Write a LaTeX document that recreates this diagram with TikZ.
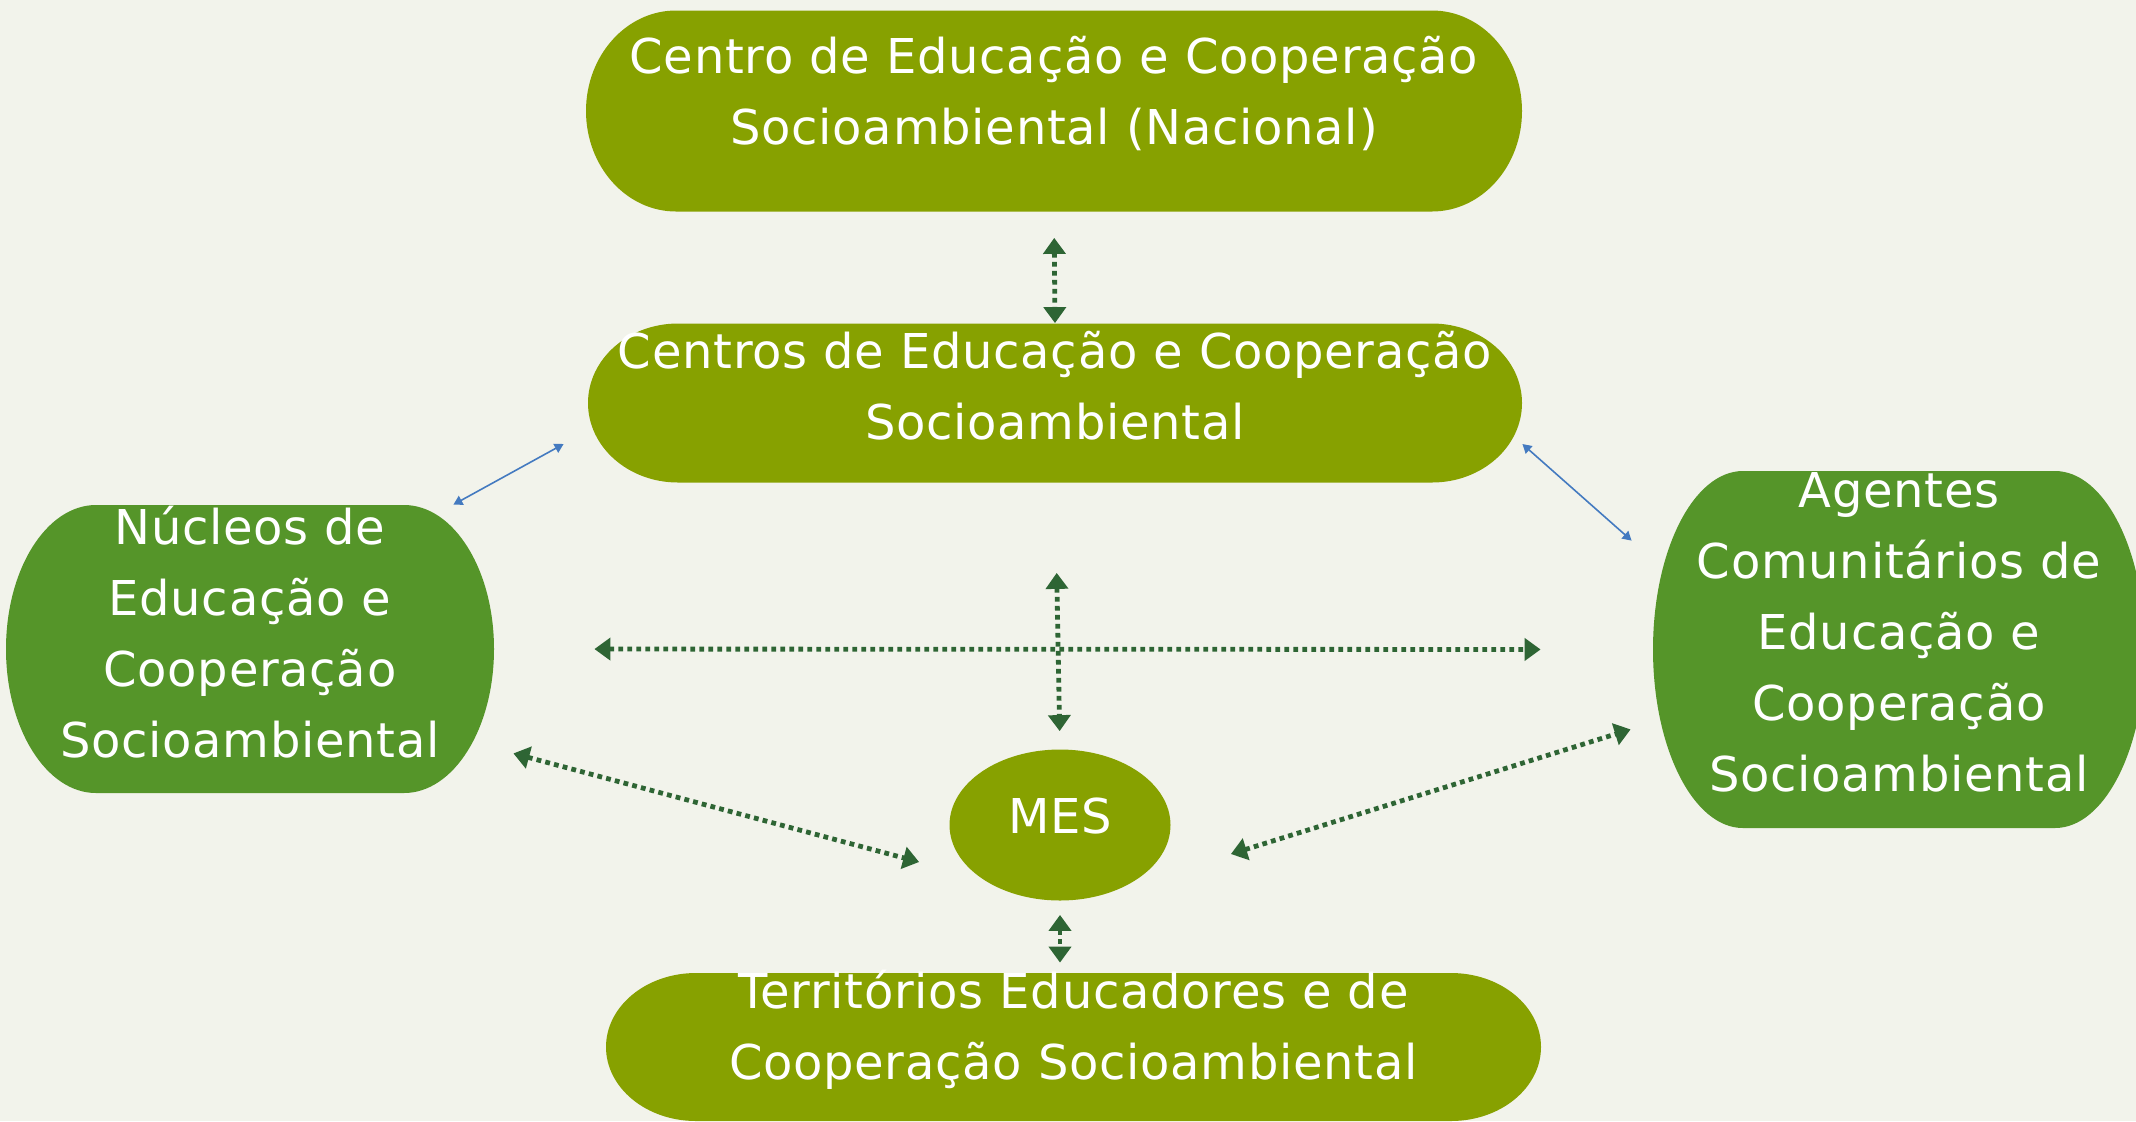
\documentclass[tikz,border=0pt]{standalone}
\usepackage{fontspec}
\setmainfont{DejaVu Sans}[LetterSpace=1.5]
\usetikzlibrary{arrows.meta,calc,shapes.geometric}

\definecolor{olivebox}{RGB}{135,161,0}
\definecolor{leafbox}{RGB}{85,149,41}
\definecolor{arrowgreen}{RGB}{46,101,52}
\definecolor{linkblue}{RGB}{68,122,192}
\definecolor{paper}{RGB}{242,243,235}

\newcommand{\boxfont}{\fontsize{24}{35.5}\selectfont}

\tikzset{
  termbox/.style={rectangle, inner sep=0pt, path picture={
      \fill[#1] let \p1=(path picture bounding box.north west),
                    \p2=(path picture bounding box.south east),
                    \n1={(\y1-\y2)/2} in
        (\x1+45pt,\y1) -- (\x2-45pt,\y1)
        arc[start angle=90, end angle=-90, x radius=45pt, y radius=\n1]
        -- (\x1+45pt,\y2)
        arc[start angle=270, end angle=90, x radius=45pt, y radius=\n1] -- cycle;}},
  boxtext/.style={text=white, align=center, font=\boxfont, inner sep=0pt, yshift=8.5pt},
  dotlink/.style={arrowgreen, line width=2.4pt, dash pattern=on 2.4pt off 2.1pt,
    {Triangle[width=11pt,length=8pt]}-{Triangle[width=11pt,length=8pt]}},
  bluelink/.style={linkblue, line width=0.8pt,
    {Triangle[width=5pt,length=4.5pt]}-{Triangle[width=5pt,length=4.5pt]}},
}

\begin{document}
\begin{tikzpicture}[x=0.5pt,y=-0.5pt]
  \useasboundingbox (0,0) rectangle (2136,1121);
  \fill[paper] (0,0) rectangle (2136,1121);

  % boxes
  \node[termbox=olivebox, minimum width=468pt, minimum height=100.5pt,
    label={[boxtext, name=nacional-txt]center:{Centro de Educação e Cooperação\\Socioambiental (Nacional)}}]
    (nacional) at (1054,111) {};
  \node[termbox=olivebox, minimum width=467pt, minimum height=79.5pt,
    label={[boxtext, name=centros-txt]center:{Centros de Educação e Cooperação\\Socioambiental}}]
    (centros) at (1055,403) {};
  \node[termbox=leafbox, minimum width=244pt, minimum height=144pt,
    label={[boxtext, name=nucleos-txt]center:{Núcleos de\\Educação e\\Cooperação\\Socioambiental}}]
    (nucleos) at (250,649) {};
  \node[termbox=leafbox, minimum width=246pt, minimum height=178.5pt,
    label={[boxtext, name=agentes-txt]center:{Agentes\\Comunitários de\\Educação e\\Cooperação\\Socioambiental}}]
    (agentes) at (1899,649.5) {};
  \node[ellipse, fill=olivebox, inner sep=0pt, minimum width=110.5pt, minimum height=75.5pt,
    label={[boxtext, yshift=-4pt, name=mes-txt]center:MES}]
    (mes) at (1060,825) {};
  \node[termbox=olivebox, minimum width=467.5pt, minimum height=74pt,
    label={[boxtext, name=territorios-txt]center:{Territórios Educadores e de\\Cooperação Socioambiental}}]
    (territorios) at (1073.5,1047) {};

  % links
  \draw[dotlink, shorten <=13pt] (nacional.south) -- (centros.north);
  \draw[bluelink] ([xshift=-20.5pt]nucleos.north east) -- ([xshift=-12pt,yshift=-20.5pt]centros.west);
  \draw[bluelink] ([yshift=-20.5pt]centros.east) -- ([xshift=-10.5pt,yshift=-35pt]agentes.north west);
  \draw[dotlink, shorten <=50pt, shorten >=56pt] (nucleos.east) -- (agentes.west);
  \draw[dotlink, shorten <=45pt, shorten >=9pt] (centros.south) -- (mes.north);
  \draw[dotlink] ([xshift=9.5pt,yshift=20pt]nucleos.south east) -- ([xshift=-15pt,yshift=-18.5pt]mes.west);
  \draw[dotlink] ([xshift=30pt,yshift=-14.5pt]mes.east) -- ([xshift=-11pt,yshift=49.5pt]agentes.south west);
  \draw[dotlink, shorten <=7pt, shorten >=5pt] (mes.south) -- (mes.south |- territorios.north);
\end{tikzpicture}
\end{document}
